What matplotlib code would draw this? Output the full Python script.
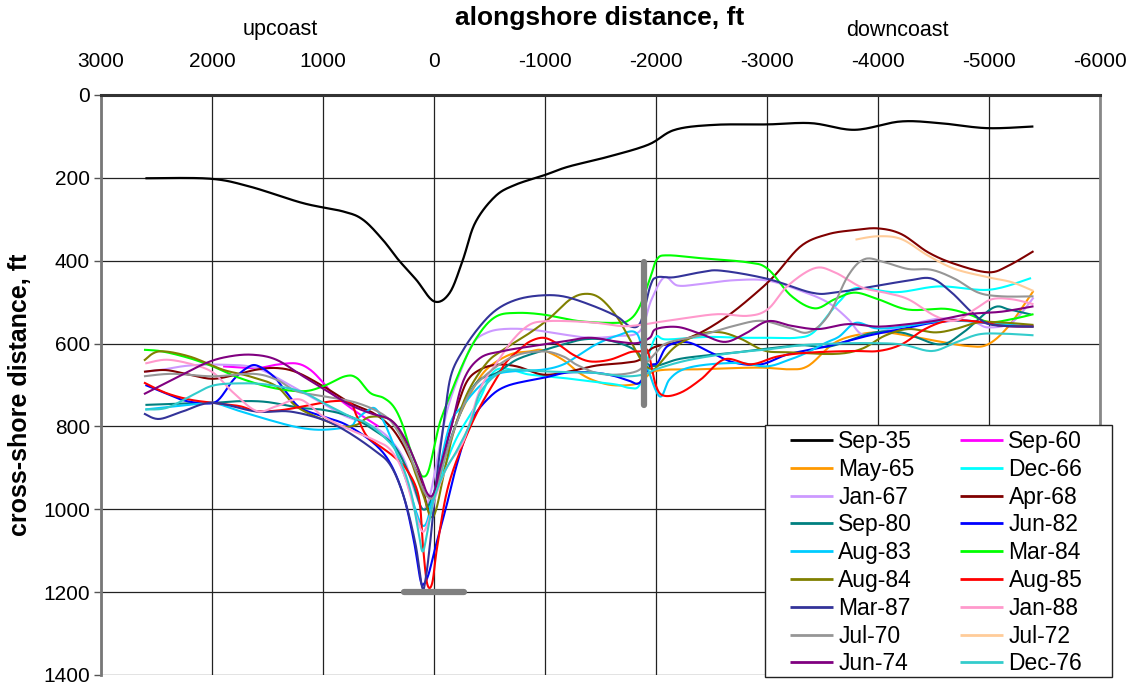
import numpy as np
import matplotlib
matplotlib.use("Agg")
import matplotlib.pyplot as plt
from matplotlib.patches import Rectangle

plt.rcParams['font.family'] = ['Liberation Sans', 'DejaVu Sans']
plt.rcParams['axes.unicode_minus'] = False

# shoreline surveys: alongshore distance (ft, + upcoast) vs cross-shore distance (ft)
SEP35_X = [2600, 2020, 1660, 1180, 820, 640, 460, 320, 160, 0, -140, -260, -370, -550, -730,
           -1000, -1210, -1570, -1930, -2170, -2530, -3000, -3400, -3790, -4200, -4560, -4980, -5400]
SEP35_Y = [201, 202, 221, 261, 281, 301, 350, 398, 446, 498, 478, 398, 309, 245, 217,
           193, 173, 149, 120, 84, 72, 71, 68, 84, 64, 68, 80, 76]

SEP60_X = [1900, 1600, 1420, 1240, 1116, 996, 906, 700, 500]
SEP60_Y = [655, 659, 651, 648, 663, 695, 723, 765, 800]

MAY65_X = [-200, -330, -470, -680, -860, -980, -1160, -1310, -1460, -1640, -1850, -2000, -2400,
           -2920, -3190, -3370, -3610, -3850, -4060, -4270, -4510, -4810, -4990, -5180, -5400]
MAY65_Y = [790, 720, 663, 627, 619, 616, 639, 671, 691, 701, 695, 666, 662,
           658, 662, 654, 598, 577, 573, 581, 593, 606, 602, 557, 473]

DEC66_X = [50, -50, -200, -400, -564, -864, -1164, -1404, -1644, -1764, -1854, -1944, -2004, -2094,
           -2454, -2754, -2994, -3264, -3414, -3564, -3654, -3804, -4164, -4554, -5004, -5379]
DEC66_Y = [1000, 930, 830, 740, 663, 675, 683, 691, 699, 707, 699, 620, 583, 590,
           584, 586, 586, 586, 574, 526, 498, 466, 476, 462, 470, 442]

JAN67_X = [2600, 2447, 2205, 1903, 1601, 1300, 1000, 800, 550, 400, 270, 170, 100, 40, -30, -120,
           -250, -354, -474, -624, -864, -1164, -1404, -1644, -1854, -1959, -2075, -2196, -2406,
           -2707, -3008, -3309, -3550, -3731, -3851, -4001, -4212, -4513, -4694, -4874, -4994,
           -5206, -5401]
JAN67_Y = [668, 663, 653, 651, 659, 700, 745, 775, 800, 830, 880, 960, 1000, 970, 880, 760,
           660, 598, 574, 565, 566, 578, 586, 582, 570, 494, 440, 460, 456,
           447, 448, 473, 501, 541, 577, 573, 559, 541, 541, 549, 561,
           549, 489]

APR68_X = [2613, 2417, 2205, 1994, 1783, 1601, 1420, 1239, 998, 756, 545, 394, 289, 213, 122, 62,
           17, -29, -120, -210, -300, -414, -564, -744, -984, -1224, -1464, -1704, -1854, -1974,
           -2181, -2406, -2647, -2888, -3068, -3309, -3550, -3791, -4001, -4212, -4453, -4694,
           -4994, -5175, -5401]
APR68_Y = [668, 664, 675, 685, 675, 663, 659, 669, 703, 743, 768, 800, 840, 880, 929, 993,
           1005, 929, 832, 752, 690, 663, 651, 655, 675, 667, 653, 647, 639, 610,
           597, 573, 533, 481, 436, 364, 336, 326, 322, 336, 380, 408,
           428, 412, 377]

SEP80_X = [2600, 2300, 1986, 1746, 1506, 1206, 998, 756, 545, 350, 200, 100, 0, -150, -300, -414,
           -564, -744, -954, -1164, -1344, -1524, -1704, -1824, -1914, -2000, -2196, -2406, -2707,
           -3008, -3309, -3564, -3954, -4224, -4554, -4764, -5034, -5184, -5379]
SEP80_Y = [748, 745, 743, 739, 741, 755, 760, 776, 808, 850, 930, 1000, 960, 830, 730, 687,
           671, 639, 619, 602, 590, 590, 602, 619, 647, 654, 638, 630, 622,
           612, 604, 607, 574, 574, 602, 574, 514, 518, 530]

JUN82_X = [2600, 2400, 2256, 2106, 1956, 1806, 1686, 1596, 1446, 1326, 1206, 1000, 790, 545, 394,
           273, 183, 122, 90, 47, -14, -114, -210, -330, -480, -660, -1000, -1200, -1440, -1620,
           -1760, -1850, -1950, -2015, -2105, -2286, -2497, -2707, -2948, -3189, -3550, -3911,
           -4212, -4513, -4814, -5115, -5400]
JUN82_Y = [700, 722, 737, 743, 739, 687, 659, 653, 679, 719, 755, 776, 796, 840, 889,
           969, 1074, 1171, 1180, 1155, 1090, 990, 888, 791, 735, 702, 682, 670, 670, 678,
           690, 695, 654, 646, 606, 597, 622, 646, 650, 626, 606, 581,
           565, 549, 545, 557, 559]

AUG83_X = [2600, 2170, 1990, 1750, 1450, 1210, 1000, 760, 700, 610, 520, 400, 250, 100, 0, -140,
           -260, -410, -560, -710, -980, -1160, -1310, -1460, -1640, -1820, -1900, -2030, -2120,
           -2240, -2450, -2750, -3000, -3200, -3350, -3530, -3650, -3800, -3980, -4200, -4600,
           -5000, -5400]
AUG83_Y = [759, 747, 743, 763, 787, 803, 808, 800, 784, 764, 759, 820, 930, 1040, 960, 798,
           750, 703, 675, 667, 663, 651, 627, 602, 582, 574, 640, 727, 687,
           663, 651, 647, 655, 639, 623, 598, 583, 550, 563, 560, 545,
           550, 560]

MAR84_X = [2613, 2447, 2205, 1994, 1752, 1450, 1179, 998, 802, 696, 575, 455, 364, 289, 213, 138,
           99, 47, -29, -84, -264, -414, -564, -744, -984, -1314, -1644, -1764, -1854, -1950,
           -2010, -2105, -2406, -2828, -3008, -3219, -3430, -3610, -3791, -4001, -4272, -4604,
           -4814, -5001, -5206, -5401]
MAR84_Y = [615, 619, 635, 655, 683, 707, 715, 703, 679, 683, 719, 731, 752, 792, 856, 905,
           921, 905, 816, 767, 647, 574, 534, 526, 530, 546, 550, 542, 510, 440,
           396, 387, 394, 404, 420, 485, 515, 493, 477, 493, 518, 516,
           529, 548, 541, 529]

AUG84_X = [2613, 2477, 2205, 1903, 1662, 1420, 1239, 998, 816, 696, 575, 394, 273, 168, 92, 32,
           -20, -100, -174, -300, -474, -624, -864, -1044, -1224, -1359, -1494, -1644, -1764,
           -1884, -1970, -2015, -2181, -2406, -2587, -2768, -2978, -3189, -3610, -3851, -4062,
           -4272, -4513, -4694, -4904, -5115, -5401]
AUG84_Y = [641, 619, 631, 663, 679, 703, 752, 784, 800, 796, 777, 784, 832, 913, 969, 1017,
           1000, 900, 816, 720, 647, 615, 574, 538, 494, 480, 490, 534, 590,
           647, 662, 654, 606, 577, 573, 589, 617, 621, 625, 613, 581,
           565, 573, 565, 549, 549, 555]

AUG85_X = [2613, 2417, 2205, 1994, 1752, 1601, 1386, 1146, 906, 756, 696, 606, 486, 366, 246, 138,
           99, 62, 17, -29, -120, -250, -400, -550, -650, -774, -864, -984, -1104, -1254, -1404,
           -1584, -1764, -1854, -1925, -2000, -2075, -2226, -2406, -2617, -2858, -3098, -3370,
           -3761, -4001, -4212, -4423, -4634, -4904, -5115, -5401]
AUG85_Y = [694, 719, 735, 743, 751, 763, 761, 750, 739, 743, 775, 823, 848, 872, 904, 969,
           1090, 1179, 1179, 1090, 953, 850, 760, 690, 645, 614, 595, 586, 599, 627, 643,
           639, 621, 619, 618, 702, 726, 718, 686, 638, 650, 631, 622,
           618, 618, 602, 565, 545, 547, 557, 559]

MAR87_X = [2613, 2477, 2266, 1994, 1601, 1299, 998, 786, 545, 394, 273, 168, 108, 77, 32, -29,
           -89, -150, -264, -414, -564, -744, -954, -1164, -1404, -1644, -1764, -1860, -1950,
           -2010, -2160, -2400, -2587, -3008, -3400, -3610, -4001, -4272, -4483, -4664, -4814,
           -4964, -5115, -5401]
MAR87_Y = [769, 782, 764, 743, 764, 764, 784, 812, 856, 893, 969, 1082, 1187, 1171, 1074, 913,
           792, 680, 615, 558, 518, 494, 484, 486, 506, 534, 558, 549, 460,
           440, 440, 428, 424, 444, 477, 477, 460, 448, 443, 477, 517,
           549, 557, 559]

JAN88_X = [2601, 2406, 2166, 1986, 1806, 1596, 1416, 1206, 998, 756, 545, 394, 273, 168, 102, 47,
           -14, -120, -271, -414, -564, -714, -864, -1014, -1224, -1464, -1704, -1884, -2000,
           -2256, -2557, -2828, -3008, -3189, -3430, -3610, -3851, -4062, -4272, -4513, -4694,
           -4874, -5025, -5206, -5401]
JAN88_Y = [648, 639, 651, 671, 719, 763, 751, 735, 776, 808, 832, 856, 913, 1010, 1054, 1026,
           969, 896, 832, 711, 647, 590, 554, 546, 546, 550, 558, 554, 549,
           539, 529, 533, 517, 460, 418, 428, 464, 477, 493, 533, 545,
           517, 493, 493, 505]

JUL70_X = [2613, 2356, 1994, 1631, 1420, 1239, 998, 696, 455, 334, 213, 122, 62, 2, -59, -150,
           -300, -450, -714, -984, -1164, -1284, -1464, -1644, -1824, -1914, -2000, -2105, -2406,
           -2707, -2948, -3189, -3370, -3550, -3731, -3881, -4062, -4272, -4483, -4694, -4904,
           -5115, -5401]
JUL70_Y = [679, 673, 679, 673, 687, 715, 727, 743, 772, 808, 873, 937, 969, 969, 913, 832,
           730, 680, 631, 619, 631, 651, 671, 675, 667, 647, 622, 598, 580,
           557, 545, 561, 573, 533, 436, 396, 404, 420, 422, 444, 477,
           486, 486]

JUL72_X = [-3797, -4001, -4212, -4453, -4694, -4994, -5206, -5401]
JUL72_Y = [349, 341, 348, 388, 420, 440, 452, 473]

JUN74_X = [2613, 2356, 2054, 1843, 1631, 1420, 1179, 938, 756, 575, 394, 273, 152, 62, 2, -59,
           -150, -264, -414, -624, -864, -1164, -1404, -1644, -1824, -1944, -2000, -2196, -2406,
           -2617, -2798, -3008, -3219, -3460, -3731, -4001, -4272, -4513, -4814, -5115, -5401]
JUN74_Y = [722, 687, 647, 631, 627, 639, 679, 719, 748, 768, 784, 824, 896, 961, 961, 896,
           808, 690, 635, 618, 607, 595, 586, 595, 599, 586, 565, 560, 577,
           596, 577, 546, 557, 565, 553, 559, 553, 545, 529, 523, 510]

DEC76_X = [2601, 2406, 2166, 1986, 1746, 1506, 1206, 998, 756, 605, 455, 334, 213, 138, 102, 62,
           2, -89, -210, -331, -414, -564, -714, -984, -1224, -1464, -1704, -1884, -2000, -2196,
           -2406, -2707, -3008, -3309, -3610, -3911, -4212, -4483, -4694, -4904, -5115, -5401]
DEC76_Y = [759, 755, 723, 701, 696, 699, 715, 743, 776, 792, 824, 864, 953, 1058, 1102, 1058,
           977, 913, 856, 790, 720, 675, 663, 667, 669, 671, 679, 675, 662, 646,
           634, 622, 614, 604, 600, 599, 602, 618, 598, 578, 576, 580]

LABELS = ["Sep-35", "Sep-60", "May-65", "Dec-66", "Jan-67", "Apr-68", "Sep-80", "Jun-82",
          "Aug-83", "Mar-84", "Aug-84", "Aug-85", "Mar-87", "Jan-88", "Jul-70", "Jul-72",
          "Jun-74", "Dec-76"]
SERIES = [(SEP35_X, SEP35_Y), (SEP60_X, SEP60_Y), (MAY65_X, MAY65_Y), (DEC66_X, DEC66_Y),
          (JAN67_X, JAN67_Y), (APR68_X, APR68_Y), (SEP80_X, SEP80_Y), (JUN82_X, JUN82_Y),
          (AUG83_X, AUG83_Y), (MAR84_X, MAR84_Y), (AUG84_X, AUG84_Y), (AUG85_X, AUG85_Y),
          (MAR87_X, MAR87_Y), (JAN88_X, JAN88_Y), (JUL70_X, JUL70_Y), (JUL72_X, JUL72_Y),
          (JUN74_X, JUN74_Y), (DEC76_X, DEC76_Y)]
COLORS = ["#000000", "#FF00FF", "#FF9900", "#00FFFF", "#CC99FF", "#800000", "#008080", "#0000FF",
          "#00CCFF", "#00FF00", "#808000", "#FF0000", "#333399", "#FF99CC", "#969696", "#FFCC99",
          "#800080", "#33CCCC"]

# reference markers: groin line and datum bar
GROIN_X = [-1890, -1890]
GROIN_Y = [402, 749]
DATUM_X = [270, -270]
DATUM_Y = [1200, 1200]


def smooth(xs, ys, n=16):
    # spreadsheet-style smoothed line: cubic bezier through every point
    p = np.column_stack([xs, ys]).astype(float)
    q = np.vstack([p[0], p, p[-1]])
    t = np.linspace(0, 1, n, endpoint=False)[:, None]
    out = []
    for i in range(len(p) - 1):
        p0, p1, p2, p3 = q[i], q[i + 1], q[i + 2], q[i + 3]
        c1 = p1 + (p2 - p0) / 6.0
        c2 = p2 - (p3 - p1) / 6.0
        out.append((1 - t) ** 3 * p1 + 3 * (1 - t) ** 2 * t * c1 + 3 * (1 - t) * t ** 2 * c2 + t ** 3 * p2)
    out.append(p[-1:])
    out = np.vstack(out)
    return out[:, 0], out[:, 1]


W, H = 1132, 685
fig = plt.figure(figsize=(W / 100, H / 100), dpi=100)
ax = fig.add_axes([101 / W, 1 - 675 / H, 999 / W, 580 / H])

handles = []
for (xs, ys), lab, col in zip(SERIES, LABELS, COLORS):
    sx, sy = smooth(xs, ys)
    lw = 1.6 if lab == "Sep-35" else 1.5
    h, = ax.plot(sx, sy, color=col, lw=lw, label=lab, solid_capstyle='butt', zorder=3)
    handles.append(h)

ax.plot(GROIN_X, GROIN_Y, color='#808080', lw=4.5, solid_capstyle='round', zorder=4)
ax.plot(DATUM_X, DATUM_Y, color='#808080', lw=4.5, solid_capstyle='round', zorder=4)

ax.set_xlim(3000, -6000)
ax.set_ylim(1400, 0)
ax.set_xticks(np.arange(3000, -6001, -1000))
ax.set_yticks(np.arange(0, 1401, 200))
ax.xaxis.tick_top()
ax.tick_params(axis='x', length=0, pad=17, labelsize=15)
ax.tick_params(axis='y', length=5, width=1, pad=3, labelsize=15, color='#555555')
ax.grid(True, color='#222222', lw=0.9, zorder=1)
ax.set_axisbelow(True)

ax.spines['top'].set_linewidth(2.2)
ax.spines['top'].set_color('#333333')
ax.spines['left'].set_linewidth(2)
ax.spines['left'].set_color('#777777')
ax.spines['right'].set_linewidth(2)
ax.spines['right'].set_color('#888888')
ax.spines['bottom'].set_visible(False)

fig.text(600 / W, 1 - 18 / H, "alongshore distance, ft", ha='center', va='center',
         fontsize=19, fontweight='bold')
fig.text(280 / W, 1 - 30 / H, "upcoast", ha='center', va='center', fontsize=15.5)
fig.text(897 / W, 1 - 30 / H, "downcoast", ha='center', va='center', fontsize=15.5)
fig.text(20 / W, 1 - 395 / H, "cross-shore distance, ft", ha='center', va='center',
         rotation=90, fontsize=18, fontweight='bold')

# legend box, then the two-column entries filled row by row
fig.patches.append(Rectangle((765 / W, 1 - 677 / H), 347 / W, 252 / H,
                             transform=fig.transFigure, facecolor='white',
                             edgecolor='#222222', lw=1.0, zorder=4))
order = list(range(0, 18, 2)) + list(range(1, 18, 2))
leg = fig.legend([handles[i] for i in order], [LABELS[i] for i in order], ncol=2,
                 loc='upper left', bbox_to_anchor=(790 / W, 1 - 430 / H),
                 bbox_transform=fig.transFigure, fontsize=16.5, frameon=False,
                 borderpad=0, labelspacing=0.21, handlelength=1.88, handletextpad=0.22,
                 columnspacing=2.0, borderaxespad=0)
leg.set_zorder(5)
for l in leg.get_lines():
    l.set_linewidth(2)

fig.savefig("out.png", dpi=100)
